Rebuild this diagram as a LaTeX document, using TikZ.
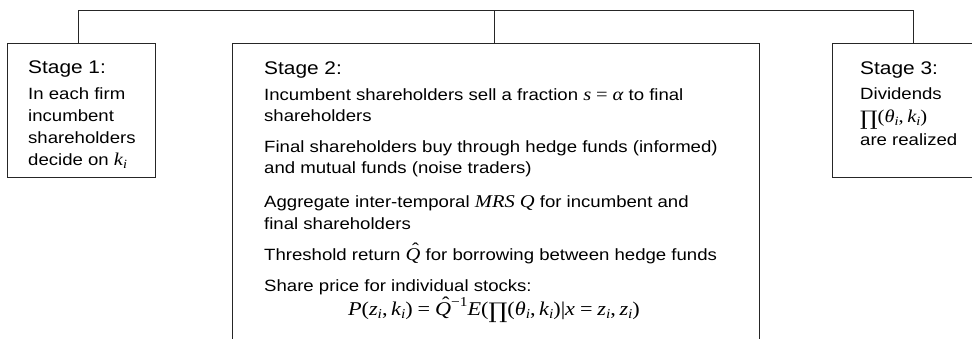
\documentclass[tikz,border=0pt]{standalone}
\usepackage{fontspec}
\setmainfont[FakeStretch=1.14]{Liberation Sans}
\newfontfamily\mf[FakeStretch=1.14]{Liberation Serif}
\newfontfamily\pf[FakeStretch=1.1]{DejaVu Serif}
\newcommand\msize{18}
\newcommand\mssize{12.6}
\newcommand\mpsize{20}
\newcommand\mvar[1]{{\fontsize{\msize}{20}\selectfont\mf\itshape #1}}
\newcommand\mup[1]{{\fontsize{\msize}{20}\selectfont\mf #1}}
\newcommand\msub[1]{\raisebox{-0.22em}{\fontsize{\mssize}{13}\selectfont\mf\itshape #1}}
\newcommand\msup[1]{\raisebox{0.5em}{\fontsize{\mssize}{13}\selectfont\mf #1}}
\newcommand\Qhat{\mbox{\mvar{Q}\llap{\raisebox{0.3em}{\mup{ˆ}}\kern0.1em}}}
\newcommand\bigprod{\raisebox{-0.2em}{{\fontsize{\mpsize}{22}\selectfont\pf ∏}}}
\newcommand\msp{\hspace{0.22em}}
\newcommand\mrel{\hspace{0.3em}}
\begin{document}
\begin{tikzpicture}[x=1pt,y=-1pt,
  box/.style={draw=black!85, line width=1pt, inner sep=0pt},
  conn/.style={draw=black!85, line width=1pt},
  txt/.style={anchor=base west, inner sep=0pt, font=\fontsize{16.3}{20}\selectfont},
  head/.style={anchor=base west, inner sep=0pt, font=\fontsize{18.3}{22}\selectfont},
  formula/.style={anchor=base, inner sep=0pt, font=\fontsize{16.3}{20}\selectfont\renewcommand\msize{19.5}\renewcommand\mssize{13.6}\renewcommand\mpsize{21.5}}]
\useasboundingbox (0,0) rectangle (972,338);
\begin{scope}
\clip (0,0) rectangle (972,338);
\node[box, minimum width=148pt, minimum height=134pt, anchor=north west] (s1) at (7,43) {};
\node[box, minimum width=527pt, minimum height=330pt, anchor=north west] (s2) at (232,43) {};
\node[box, minimum width=170pt, minimum height=134pt, anchor=north west] (s3) at (832,43) {};
\end{scope}
\coordinate (t1) at (78,10);
\coordinate (t2) at (494,10);
\coordinate (t3) at (913,10);
\draw[conn] (t1 |- s1.north) -- (t1) -- (t3) -- (t3 |- s3.north);
\draw[conn] (t2) -- (t2 |- s2.north);
% Stage 1
\node[head] (h1) at (28,73) {Stage 1:};
\node[txt] (a1) at (28,99) {In each firm};
\node[txt] (a2) at (28,121) {incumbent};
\node[txt] (a3) at (28,143) {shareholders};
\node[txt] (a4) at (28,165) {decide on \mvar{k}\msub{i}};
% Stage 2
\node[head] (h2) at (264,74) {Stage 2:};
\node[txt] (b1) at (264,100) {Incumbent shareholders sell a fraction \mvar{s}\mrel\mup{=}\mrel\mvar{α} to final};
\node[txt] (b2) at (264,121) {shareholders};
\node[txt] (b3) at (264,152) {Final shareholders buy through hedge funds (informed)};
\node[txt] (b4) at (264,173) {and mutual funds (noise traders)};
\node[txt] (b5) at (264,207) {Aggregate inter-temporal \mvar{MRS Q} for incumbent and};
\node[txt] (b6) at (264,229) {final shareholders};
\node[txt] (b7) at (264,260) {Threshold return \Qhat\ for borrowing between hedge funds};
\node[txt] (b8) at (264,291) {Share price for individual stocks:};
\node[formula] (b9) at (494,315) {\mvar{P}\mup{(}\mvar{z}\msub{i}\mup{,}\msp\mvar{k}\msub{i}\mup{)}\mrel\mup{=}\mrel\Qhat\msup{−1}\mvar{E}\mup{(}\bigprod\mup{(}\mvar{θ}\msub{i}\mup{,}\msp\mvar{k}\msub{i}\mup{)|}\mvar{x}\mrel\mup{=}\mrel\mvar{z}\msub{i}\mup{,}\msp\mvar{z}\msub{i}\mup{)}};
% Stage 3
\node[head] (h3) at (860,74) {Stage 3:};
\node[txt] (c1) at (860,99) {Dividends};
\node[txt] (c2) at (860,122) {\bigprod\mup{(}\mvar{θ}\msub{i}\mup{,}\msp\mvar{k}\msub{i}\mup{)}};
\node[txt] (c3) at (860,145) {are realized};
\end{tikzpicture}
\end{document}
